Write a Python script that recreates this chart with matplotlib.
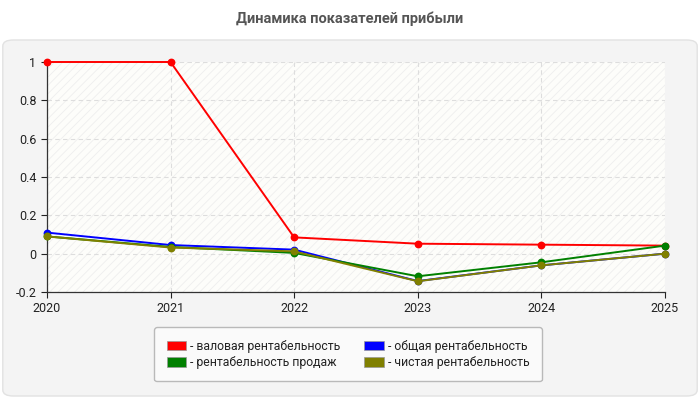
import matplotlib
matplotlib.use('Agg')
import matplotlib.pyplot as plt
from matplotlib.patches import FancyBboxPatch, Patch

plt.rcParams['font.family'] = ['Roboto', 'DejaVu Sans']
plt.rcParams['hatch.color'] = '#eeeeee'
plt.rcParams['hatch.linewidth'] = 0.6

years = [2020, 2021, 2022, 2023, 2024, 2025]
gross = [1.0, 1.0, 0.085, 0.052, 0.047, 0.042]
total = [0.11, 0.045, 0.021, -0.143, -0.061, 0.0]
sales = [0.09, 0.035, 0.004, -0.118, -0.045, 0.042]
net = [0.09, 0.032, 0.012, -0.144, -0.061, 0.0]

labels = ['- валовая рентабельность', '- общая рентабельность',
          '- рентабельность продаж', '- чистая рентабельность']
colors = ['#ff0000', '#0000ff', '#008000', '#808000']
yticks = [-0.2, 0, 0.2, 0.4, 0.6, 0.8, 1]
ytick_labels = ['-0.2', '0', '0.2', '0.4', '0.6', '0.8', '1']

fig = plt.figure(figsize=(7, 4), dpi=100)
fig.patch.set_facecolor('white')

# rounded panel behind the chart
panel = FancyBboxPatch((0.004, 0.01), 0.992, 0.89,
                       boxstyle='round,pad=0,rounding_size=0.015',
                       transform=fig.transFigure, facecolor='#f4f4f4',
                       edgecolor='#e2e2e2', linewidth=1, zorder=-5)
fig.patches.append(panel)

fig.text(0.5, 0.952, 'Динамика показателей прибыли', ha='center', va='center',
         fontsize=10.5, fontweight='bold', color='#555555')

ax = fig.add_axes([0.067, 0.27, 0.883, 0.575])
ax.set_zorder(1)
ax.patch.set_facecolor('#fdfdfa')
ax.patch.set_hatch('////')
ax.patch.set_edgecolor('#eeeeee')

for ys, c in zip([gross, total, sales, net], colors):
    ax.plot(years, ys, color=c, lw=1.4, marker='o', ms=4.6, zorder=3, clip_on=False)

ax.set_xlim(2020, 2025)
ax.set_ylim(-0.2, 1)
ax.set_xticks(years)
ax.set_yticks(yticks)
ax.set_yticklabels(ytick_labels)
ax.tick_params(labelsize=9, colors='#222222', length=4, width=0.8)
ax.grid(True, color='#dddddd', linestyle=(0, (4, 3)), linewidth=0.8)
ax.set_axisbelow(True)
for s in ['top', 'right']:
    ax.spines[s].set_visible(False)
for s in ['left', 'bottom']:
    ax.spines[s].set_color('#333333')
    ax.spines[s].set_linewidth(0.9)

# legend fills column-wise, so order items to read row by row
order = [0, 2, 1, 3]
handles = [Patch(facecolor=colors[i], edgecolor='#999999', linewidth=0.5) for i in order]
leg = fig.legend(handles, [labels[i] for i in order], loc='center',
                 bbox_to_anchor=(0.497, 0.114),
                 ncol=2, fontsize=8.8, frameon=True, fancybox=True,
                 handlelength=1.6, handleheight=0.8, handletextpad=0.3,
                 columnspacing=2.0, labelspacing=0.3, borderpad=1.0,
                 labelcolor='#222222')
leg.set_zorder(2)
leg.get_frame().set_facecolor('#fcfcfc')
leg.get_frame().set_edgecolor('#aaaaaa')

fig.savefig('out.png', dpi=100)
